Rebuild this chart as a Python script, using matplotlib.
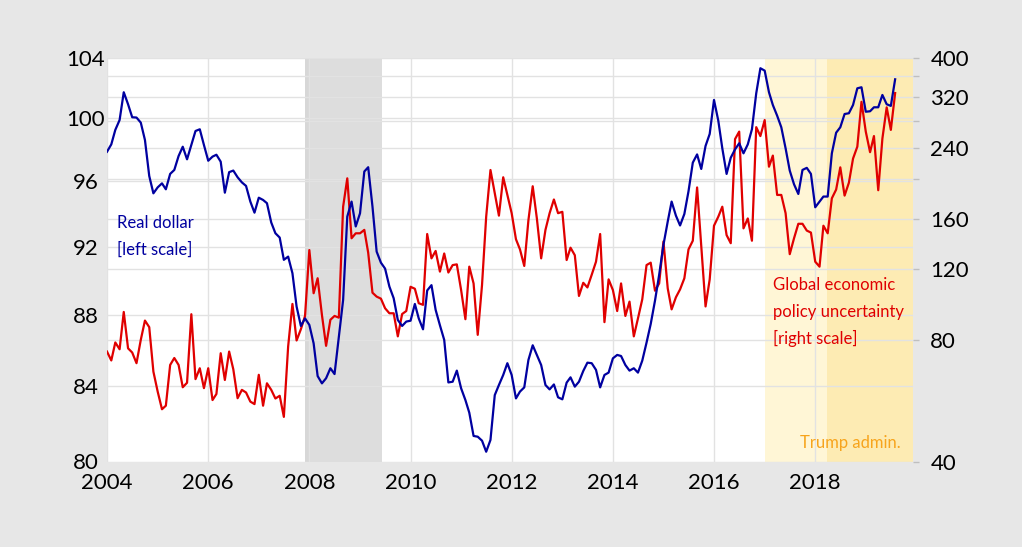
import matplotlib
matplotlib.use("Agg")
import matplotlib.pyplot as plt
import matplotlib.dates as mdates
import matplotlib.transforms as mtransforms
from matplotlib.ticker import FixedLocator, FixedFormatter, NullLocator
import pandas as pd

plt.rcParams['font.family'] = ['Lato', 'DejaVu Sans']

# ---------------- data ----------------
months = pd.date_range('2004-01-01', periods=188, freq='MS')

real_dollar = [
    97.85, 98.32, 99.25, 99.89, 101.71, 100.92, 100.07, 100.05, 99.72, 98.60,
    96.32, 95.24, 95.61, 95.86, 95.49, 96.45, 96.70, 97.58, 98.17, 97.37,
    98.28, 99.18, 99.29, 98.28, 97.28, 97.54, 97.66, 97.22, 95.28, 96.56,
    96.66, 96.24, 95.92, 95.70, 94.73, 94.05, 94.97, 94.83, 94.63, 93.45,
    92.80, 92.54, 91.21, 91.40, 90.42, 88.48, 87.37, 87.80, 87.43, 86.39,
    84.57, 84.17, 84.45, 85.00, 84.68, 86.76, 88.86, 93.81, 94.73, 93.21,
    94.01, 96.60, 96.87, 94.42, 91.70, 91.04, 90.69, 89.64, 88.96, 87.71,
    87.37, 87.62, 87.67, 88.63, 87.80, 87.18, 89.41, 89.72, 88.29, 87.41,
    86.58, 84.22, 84.26, 84.87, 83.90, 83.26, 82.58, 81.34, 81.30, 81.09,
    80.51, 81.13, 83.53, 84.08, 84.63, 85.28, 84.63, 83.35, 83.72, 83.95,
    85.46, 86.28, 85.74, 85.18, 84.08, 83.84, 84.11, 83.41, 83.30, 84.21,
    84.50, 83.99, 84.26, 84.85, 85.31, 85.28, 84.91, 83.95, 84.63, 84.76,
    85.55, 85.74, 85.68, 85.18, 84.87, 85.00, 84.76, 85.42, 86.43, 87.48,
    88.82, 90.32, 92.10, 93.51, 94.73, 93.87, 93.27, 93.97, 95.37, 97.16,
    97.68, 96.76, 98.22, 98.99, 101.20, 99.85, 98.07, 96.45, 97.47, 98.00,
    98.39, 97.75, 98.32, 99.29, 101.64, 103.31, 103.15, 101.71, 100.87, 100.17,
    99.42, 98.07, 96.66, 95.80, 95.20, 96.70, 96.83, 96.45, 94.38, 94.73,
    95.04, 95.04, 97.75, 99.07, 99.42, 100.28, 100.33, 100.87, 101.97, 102.04,
    100.43, 100.46, 100.72, 100.72, 101.53, 100.92, 100.81, 102.57,
]

gepu = [
    74.9, 71.2, 78.9, 75.9, 93.9, 76.3, 74.5, 70.1, 80.1, 89.4,
    86.1, 66.8, 59.6, 53.9, 55.0, 69.4, 72.2, 69.4, 61.1, 62.7,
    92.7, 64.0, 68.1, 60.8, 68.1, 56.8, 58.8, 74.2, 63.7, 74.9,
    67.7, 57.4, 60.2, 59.3, 56.3, 55.5, 65.6, 55.0, 62.5, 60.2,
    57.3, 58.2, 51.6, 77.1, 98.3, 79.8, 85.1, 91.8, 133.7, 104.5,
    113.8, 92.3, 77.4, 89.8, 91.8, 90.9, 171.2, 201.3, 143.0, 147.1,
    147.1, 150.0, 131.7, 104.8, 102.5, 101.3, 95.9, 93.2, 93.2, 81.7,
    92.8, 94.4, 108.4, 107.2, 98.7, 97.8, 146.5, 127.5, 133.0, 118.2,
    131.1, 117.6, 122.7, 123.2, 106.4, 90.1, 121.6, 110.5, 82.4, 109.5,
    161.7, 211.1, 185.0, 162.7, 202.5, 183.2, 165.0, 142.2, 134.2, 122.1,
    158.5, 192.4, 160.1, 127.5, 150.0, 165.0, 178.4, 165.0, 166.3, 126.3,
    135.5, 129.8, 102.9, 110.9, 108.0, 116.1, 125.1, 146.5, 88.6, 113.1,
    106.4, 94.4, 110.5, 91.8, 99.6, 81.7, 90.5, 100.9, 122.7, 124.4,
    106.0, 110.5, 140.4, 107.4, 95.3, 102.1, 106.8, 113.8, 134.2, 141.0,
    191.1, 136.3, 96.9, 113.1, 153.6, 161.7, 171.2, 145.6, 139.0, 251.8,
    262.8, 151.3, 160.1, 141.0, 269.6, 256.2, 280.7, 215.1, 229.2, 183.1,
    183.1, 165.0, 130.6, 143.0, 155.3, 155.3, 149.4, 147.7, 125.1, 121.6,
    153.6, 147.1, 179.6, 188.8, 214.3, 182.4, 196.3, 225.3, 241.2, 311.5,
    262.8, 233.7, 256.2, 188.1, 252.6, 301.8, 265.4, 327.5,
]

left_ticks = [80, 84, 88, 92, 96, 100, 104]
right_ticks = [40, 80, 120, 160, 200, 240, 280, 320, 360, 400]
right_labels = ['40', '80', '120', '160', '', '240', '', '320', '', '400']
year_ticks = [2004, 2006, 2008, 2010, 2012, 2014, 2016, 2018]

recession = ('2007-12-01', '2009-06-10')
recession_edge = ('2007-12-01', '2008-01-01')
trump_light = ('2017-01-01', '2018-03-24')
trump_dark = ('2018-03-24', '2019-12-08')
x_range = ('2004-01-01', '2019-12-08')

BLUE = '#0000a0'
RED = '#e00000'
GRID = '#e2e2e2'

# ---------------- figure ----------------
W, H = 1022, 547
fig = plt.figure(figsize=(W / 100, H / 100), dpi=100, facecolor='#e7e7e7')
L, R, T, B = 107, 913, 58, 461.5
axr = fig.add_axes([L / W, 1 - B / H, (R - L) / W, (B - T) / H])
axr.set_facecolor('white')
axl = axr.twinx()

for a in (axr, axl):
    for s in a.spines.values():
        s.set_visible(False)

# shading
axr.axvspan(pd.Timestamp(recession[0]), pd.Timestamp(recession[1]), color='#dddddd', lw=0, zorder=0.1)
axr.axvspan(pd.Timestamp(recession_edge[0]), pd.Timestamp(recession_edge[1]), color='#d7d7d7', lw=0, zorder=0.15)
axr.axvspan(pd.Timestamp(trump_light[0]), pd.Timestamp(trump_light[1]), color='#fff6d6', lw=0, zorder=0.1)
axr.axvspan(pd.Timestamp(trump_dark[0]), pd.Timestamp(trump_dark[1]), color='#fdebb3', lw=0, zorder=0.1)

# right axis (log)
axr.set_yscale('log')
axr.set_ylim(40, 400)
axr.yaxis.set_major_locator(FixedLocator(right_ticks))
axr.yaxis.set_major_formatter(FixedFormatter(right_labels))
axr.yaxis.set_minor_locator(NullLocator())
axr.yaxis.tick_right()
axr.tick_params(axis='y', which='major', length=4.5, width=1, color='#bfbfbf',
                labelsize=16, pad=8, labelcolor='black')

# left axis (log)
axl.set_yscale('log')
axl.set_ylim(80, 104)
axl.yaxis.set_major_locator(FixedLocator(left_ticks))
axl.yaxis.set_major_formatter(FixedFormatter([str(v) for v in left_ticks]))
axl.yaxis.set_minor_locator(NullLocator())
axl.yaxis.tick_left()
axl.tick_params(axis='y', which='major', length=0, labelsize=16, pad=15.5, labelcolor='black')
for lbl in axl.get_yticklabels():
    lbl.set_ha('center')

# x axis
axr.set_xlim(pd.Timestamp(x_range[0]), pd.Timestamp(x_range[1]))
axr.xaxis.set_major_locator(FixedLocator([mdates.date2num(pd.Timestamp(f'{y}-01-01')) for y in year_ticks]))
axr.xaxis.set_major_formatter(FixedFormatter([str(y) for y in year_ticks]))
axr.tick_params(axis='x', length=0, labelsize=16, pad=8.5, labelcolor='black')

# gridlines (drawn in the bottom axes, above shading)
axr.set_axisbelow(True)
axr.grid(True, axis='both', color=GRID, lw=1.0, zorder=0.5)
trans_l = mtransforms.blended_transform_factory(axr.transAxes, axl.transData)
for v in left_ticks[1:-1]:
    axr.plot([0, 1], [v, v], transform=trans_l, color=GRID, lw=1.0, zorder=0.5)

# series
axr.plot(months, gepu, color=RED, lw=1.6, zorder=2, solid_joinstyle='round')
axl.plot(months, real_dollar, color=BLUE, lw=1.6, zorder=3, solid_joinstyle='round')

# annotations
def ftext(x, y, s, color, size=12):
    fig.text(x / W, 1 - y / H, s, color=color, fontsize=size, ha='left', va='center')

ftext(117, 223, 'Real dollar', BLUE)
ftext(117, 250, '[left scale]', BLUE)
ftext(773, 285, 'Global economic', RED)
ftext(773, 311.5, 'policy uncertainty', RED)
ftext(773, 338, '[right scale]', RED)
ftext(800, 443, 'Trump admin.', '#f7a41c', 12)

fig.savefig('out.png', dpi=100, facecolor=fig.get_facecolor())
